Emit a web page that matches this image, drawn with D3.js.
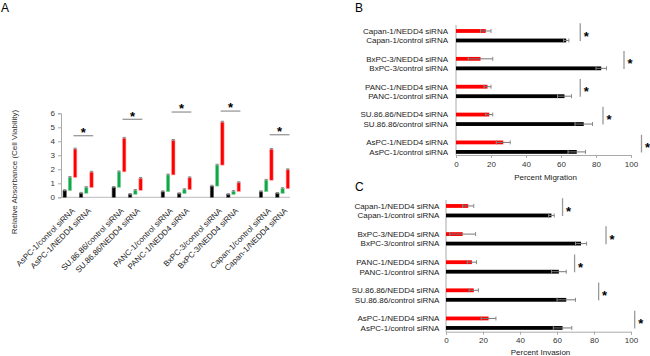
<!DOCTYPE html>
<html>
<head>
<meta charset="utf-8">
<script src="https://cdn.jsdelivr.net/npm/d3@7"></script>
<style>
body{margin:0;background:#fff;}
svg{display:block;font-family:"Liberation Sans",Arial,sans-serif;}
</style>
</head>
<body>
<svg id="chart" width="650" height="356"></svg>
<script>
const cellLines = ["AsPC-1", "SU.86.86", "PANC-1", "BxPC-3", "Capan-1"];
const treatments = ["control siRNA", "NEDD4 siRNA"];

// panel A, per cell line: control then NEDD4 (tops of each floating segment)
const viabBlack = [0.48, 0.29, 0.71, 0.21, 0.40, 0.26, 0.80, 0.20, 0.40, 0.28];
const viabGreen = [1.42, 0.70, 1.82, 0.50, 1.60, 0.55, 2.30, 0.42, 1.22, 0.62];
const viabRed   = [3.45, 1.80, 4.22, 1.35, 4.07, 1.40, 5.37, 1.05, 3.43, 1.97];
const viabErr = 0.06;
const sigA = [4.40, 5.57, 6.09, 6.16, 4.47];
const yTicksA = [0, 1, 2, 3, 4, 5, 6];

// panel B, percent migration [control, NEDD4]
const migMean = [[69, 27], [73, 19], [62, 18], [83, 14], [63, 17]];
const migErr  = [[5, 4], [5, 2], [4, 2], [3, 7], [1.5, 3]];
const migSig  = [106, 84, 71, 96, 71];

// panel C, percent invasion [control, NEDD4]
const invMean = [[63, 23], [65, 15], [61, 14], [73, 9], [57, 12]];
const invErr  = [[5, 4], [5, 2.5], [4, 2.5], [3, 7], [1.5, 3]];
const invSig  = [102, 82.5, 69.5, 86.5, 63];

const pctTicks = [0, 20, 40, 60, 80, 100];

const svg = d3.select('#chart');

const styleAxis = g => {
  g.select('.domain').attr('stroke', '#aaa');
  g.selectAll('.tick line').attr('stroke', '#aaa');
  g.selectAll('.tick text').attr('fill', '#333').attr('font-size', 8);
};

// ---------- panel A ----------
let slots = [];
cellLines.forEach((c, i) => {
  treatments.forEach(t => slots.push(c + '/' + t));
  if (i < cellLines.length - 1) slots.push('gap' + i);
});

const xA = d3.scaleBand().domain(slots).range([61, 290]);
const yA = d3.scaleLinear().domain([0, 6]).range([197.3, 113.3]);
const xSub = d3.scaleBand().domain(['black', 'green', 'red'])
  .range([2, xA.bandwidth() - 0.5]).paddingInner(0.35);

const fills = {black: '#000', green: '#12a84a', red: '#ff0000'};
const edges = {black: '#666', green: '#8fd8a8', red: '#ff9a9a'};

svg.append('text').attr('x', 1).attr('y', 12).attr('font-size', 12).text('A');

const gA = svg.append('g');

gA.append('g')
  .attr('transform', 'translate(61,0)')
  .call(d3.axisLeft(yA).tickValues(yTicksA).tickFormat(d3.format('d')).tickSize(3).tickPadding(3))
  .call(styleAxis);

gA.append('line')
  .attr('x1', 61).attr('x2', 290)
  .attr('y1', yA(0)).attr('y2', yA(0))
  .attr('stroke', '#bbb');

let catIdx = 0;
slots.forEach(s => {
  if (s.startsWith('gap')) return;
  const k = catIdx++;
  const segs = [
    {key: 'black', lo: 0, hi: viabBlack[k]},
    {key: 'green', lo: viabBlack[k], hi: viabGreen[k]},
    {key: 'red', lo: viabGreen[k], hi: viabRed[k]}
  ];
  segs.forEach(d => {
    const x0 = xA(s) + xSub(d.key);
    gA.append('rect')
      .attr('x', x0).attr('y', yA(d.hi))
      .attr('width', xSub.bandwidth())
      .attr('height', yA(d.lo) - yA(d.hi))
      .attr('fill', fills[d.key])
      .attr('stroke', edges[d.key]).attr('stroke-width', 0.6);
    const cx = x0 + xSub.bandwidth() / 2;
    gA.append('line')
      .attr('x1', cx).attr('x2', cx)
      .attr('y1', yA(d.hi - viabErr)).attr('y2', yA(d.hi + viabErr))
      .attr('stroke', '#777');
    gA.append('line')
      .attr('x1', cx - 1.6).attr('x2', cx + 1.6)
      .attr('y1', yA(d.hi + viabErr)).attr('y2', yA(d.hi + viabErr))
      .attr('stroke', '#888');
  });
  const cx = xA(s) + xA.bandwidth() / 2;
  gA.append('text')
    .attr('transform', `translate(${cx + 4},${yA(0) + 12}) rotate(-45)`)
    .attr('text-anchor', 'end')
    .attr('dy', '0.35em')
    .attr('font-size', 8)
    .attr('fill', '#222')
    .text(s);
});

cellLines.forEach((c, i) => {
  const x1 = xA(c + '/' + treatments[0]) + xSub('red');
  const x2 = xA(c + '/' + treatments[1]) + xSub('red') + xSub.bandwidth();
  const y = yA(sigA[i]);
  gA.append('line').attr('x1', x1).attr('x2', x2).attr('y1', y).attr('y2', y)
    .attr('stroke', '#999').attr('stroke-width', 1.3);
  gA.append('text').attr('x', (x1 + x2) / 2).attr('y', y + 1.2)
    .attr('text-anchor', 'middle').attr('font-size', 13).attr('font-weight', 'bold')
    .text('*');
});

gA.append('text')
  .attr('transform', 'translate(17,172) rotate(-90)')
  .attr('text-anchor', 'middle')
  .attr('font-size', 8)
  .attr('fill', '#333')
  .text('Relative Absorbance (Cell Viability)');

// ---------- panels B and C ----------
const order = cellLines.slice().reverse();
const inner = d3.scaleBand().domain(['NEDD4 siRNA', 'control siRNA'])
  .range([-9.5, 9.5]).paddingInner(0.6).paddingOuter(0.3);

function hbarPanel(opt) {
  const g = svg.append('g');
  const x = d3.scaleLinear().domain([0, 100]).range(opt.xRange);
  const y = d3.scaleBand().domain(order).range(opt.yRange);

  g.append('text').attr('x', 355).attr('y', opt.letterY).attr('font-size', 12).text(opt.letter);

  g.append('g')
    .attr('transform', `translate(0,${opt.axisY})`)
    .call(d3.axisBottom(x).tickValues(pctTicks).tickSize(3).tickPadding(3))
    .call(styleAxis);

  g.append('line')
    .attr('x1', x(0)).attr('x2', x(0))
    .attr('y1', opt.yAxisTop).attr('y2', opt.axisY)
    .attr('stroke', '#aaa');

  cellLines.forEach((c, i) => {
    const gc = y(c) + y.bandwidth() / 2;
    treatments.forEach((t, j) => {
      const m = opt.mean[i][j], e = opt.err[i][j];
      const y0 = gc + inner(t);
      const yc = y0 + inner.bandwidth() / 2;
      g.append('rect')
        .attr('x', x(0)).attr('y', y0)
        .attr('width', x(m) - x(0)).attr('height', inner.bandwidth())
        .attr('fill', j === 0 ? '#000' : '#ff0000');
      g.append('line').attr('x1', x(m - e)).attr('x2', x(m + e))
        .attr('y1', yc).attr('y2', yc).attr('stroke', '#777');
      [m - e, m + e].forEach(v => {
        g.append('line').attr('x1', x(v)).attr('x2', x(v))
          .attr('y1', yc - 2).attr('y2', yc + 2).attr('stroke', '#888');
      });
      g.append('text')
        .attr('x', opt.labelX).attr('y', yc)
        .attr('dy', '0.35em')
        .attr('text-anchor', 'end')
        .attr('font-size', 8)
        .attr('fill', '#222')
        .text(c + '/' + t);
    });
    const sx = x(opt.sig[i]);
    g.append('line').attr('x1', sx).attr('x2', sx)
      .attr('y1', gc - 12.5).attr('y2', gc + 5.3)
      .attr('stroke', '#999').attr('stroke-width', 1.3);
    g.append('text').attr('x', sx + 6).attr('y', gc + 4.8)
      .attr('text-anchor', 'middle').attr('font-size', 13).attr('font-weight', 'bold')
      .text('*');
  });

  g.append('text')
    .attr('x', (opt.xRange[0] + opt.xRange[1]) / 2 + 2)
    .attr('y', opt.titleY)
    .attr('text-anchor', 'middle')
    .attr('font-size', 8)
    .attr('fill', '#222')
    .text(opt.title);
}

hbarPanel({
  letter: 'B', letterY: 12,
  xRange: [456, 631], yRange: [21.8, 161.1],
  axisY: 155, yAxisTop: 25, labelX: 448,
  mean: migMean, err: migErr, sig: migSig,
  title: 'Percent Migration', titleY: 179.5
});

hbarPanel({
  letter: 'C', letterY: 191,
  xRange: [446, 631], yRange: [196.65, 337.25],
  axisY: 331.7, yAxisTop: 200, labelX: 439.3,
  mean: invMean, err: invErr, sig: invSig,
  title: 'Percent Invasion', titleY: 355
});
</script>
</body>
</html>
